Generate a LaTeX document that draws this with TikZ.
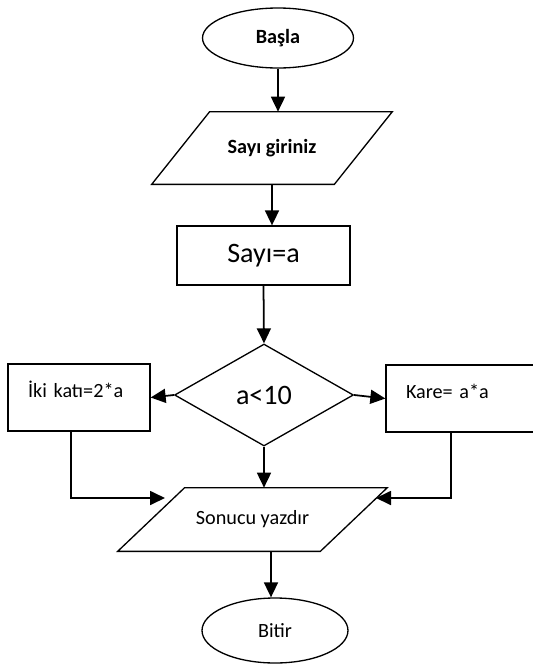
\documentclass[tikz,border=0pt]{standalone}
\usepackage{fontspec}
\setmainfont{Carlito}
\usepackage{tikz}
\usetikzlibrary{shapes.geometric,arrows.meta}
\tikzset{
  flowTerm/.style={ellipse, draw, line width=0.75pt, inner sep=0pt, font=\fontsize{11.5}{14}\selectfont},
  flowIo/.style={rectangle, inner sep=0pt, font=\fontsize{11.5}{14}\selectfont},
  flowEdge/.style={line width=0.75pt, line join=miter},
  flowBox/.style={rectangle, draw, line width=0.75pt, inner sep=0pt},
  flowSide/.style={rectangle, draw, line width=0.75pt, inner xsep=0.4cm, inner ysep=0pt, align=left,
    text height=0.32cm, text depth=0.32cm, font=\fontsize{11.5}{14}\selectfont},
  flowDec/.style={diamond, draw, line width=0.75pt, inner sep=0pt, font=\fontsize{16}{19}\selectfont},
  arr/.style={-{Triangle[length=0.3cm, width=0.28cm]}, line width=1pt}
}

\begin{document}
\begin{tikzpicture}[x=0.02cm, y=-0.02cm]
  \useasboundingbox (0,0) rectangle (533,670);
  \clip (0,0) rectangle (533,670);

  \node[flowTerm, minimum width=3.02cm, minimum height=1.2cm] (start) at (278,38) {\textbf{Başla}};
  \node[flowIo, minimum width=4.8cm, minimum height=1.44cm] (in) at (272,148) {\textbf{Sayı giriniz}};
  \node[flowBox, minimum width=3.46cm, minimum height=1.18cm,
    font=\fontsize{16}{19}\selectfont] (val) at (263.5,255.5) {Sayı=a};
  \node[flowDec, minimum width=3.58cm, minimum height=2.04cm] (dec) at (264,395) {a<10};
  \node[flowSide, minimum width=2.84cm, minimum height=1.34cm, text width=2.04cm] (double) at (79,397.5) {İki katı=2*a};
  \node[flowSide, minimum width=3.6cm, minimum height=1.34cm, text width=2.8cm] (square) at (476,398.5) {Kare= a*a};
  \node[flowIo, minimum width=5.38cm, minimum height=1.26cm] (out) at (252.5,519.5) {Sonucu yazdır};
  \node[flowTerm, minimum width=2.92cm, minimum height=1.3cm] (stop) at (275,630.5) {Bitir};

  % parallelograms
  \draw[flowEdge] ([xshift=1.16cm]in.north west) -- (in.north east)
    -- ([xshift=-1.16cm]in.south east) -- (in.south west) -- cycle;
  \draw[flowEdge] ([xshift=1.34cm]out.north west) -- (out.north east)
    -- ([xshift=-1.34cm]out.south east) -- (out.south west) -- cycle;

  \coordinate (lin) at (165,498);
  \coordinate (rin) at (376,498);

  \draw[arr] (start.south) -- (start.south |- in.north);
  \draw[arr] (in.south) -- (in.south |- val.north);
  \draw[arr] (val.south) -- (dec.north);
  \draw[arr] (dec.west) -- (double.east);
  \draw[arr] (dec.east) -- (square.west);
  \draw[arr] (dec.south) -- (dec.south |- out.north);
  \draw[arr] ([xshift=-0.16cm]double.south) |- (lin);
  \draw[arr] ([xshift=-0.5cm]square.south) |- (rin);
  \draw[arr] ([xshift=-0.08cm]stop.north |- out.south) -- ([xshift=-0.08cm]stop.north);
\end{tikzpicture}
\end{document}
